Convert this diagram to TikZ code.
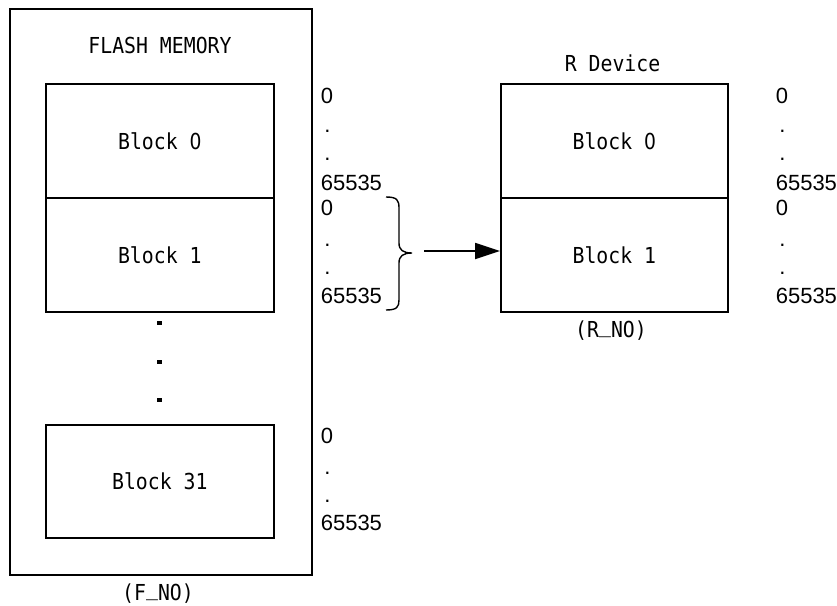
\documentclass[tikz,border=0pt]{standalone}
\usepackage{fontspec}
\newfontfamily\gul[FakeStretch=0.9]{DejaVu Sans Mono}
\newfontfamily\gulz[FakeStretch=0.85]{DejaVu Sans}
\newfontfamily\numf{Liberation Sans}
\newcommand{\zr}{{\gulz 0}}
\newcommand{\us}{\raisebox{0.2em}{\_}}
\usetikzlibrary{arrows.meta}
\begin{document}
\begin{tikzpicture}[x=1pt,y=-1pt,line width=1.6pt,
  box/.style={draw,line width=1.6pt,inner sep=0pt,anchor=north west,
    font=\gul\fontsize{22}{22}\selectfont},
  lbl/.style={font=\gul\fontsize{22}{22}\selectfont,inner sep=0pt,anchor=base},
  num/.style={font=\numf\fontsize{22}{22}\selectfont,inner sep=0pt,anchor=base west},
  dotsq/.style={fill,inner sep=0pt,minimum width=5pt,minimum height=4.5pt},
  brc/.style={line width=1.4pt},
  arr/.style={line width=1.8pt,-{Triangle[length=25pt,width=16pt]}}]
\useasboundingbox (0,0) rectangle (837,605);
% flash memory
\node[box,minimum width=302pt,minimum height=566pt] (flash) at (9,8) {};
\node[lbl] (ftitle) at (160,53) {FLASH MEMORY};
\node[box,minimum width=228pt,minimum height=114pt] (b0) at (45,83) {Block \zr};
\node[box,minimum width=228pt,minimum height=114pt] (b1) at (45,197) {Block 1};
\node[box,minimum width=228pt,minimum height=113pt] (b31) at (45,424) {Block 31};
\node[dotsq] (d1) at (159,323) {};
\node[dotsq] (d2) at (159,362) {};
\node[dotsq] (d3) at (159,400) {};
\node[lbl] (fno) at (158,600) {(F\us NO)};
% address labels, left
\node[num] (l1a) at (320,103) {0};
\node[num] (l1b) at (323.5,132) {.};
\node[num] (l1c) at (323.5,160.5) {.};
\node[num] (l1d) at (320,190) {65535};
\node[num] (l2a) at (320,215) {0};
\node[num] (l2b) at (323.5,246.5) {.};
\node[num] (l2c) at (323.5,274) {.};
\node[num] (l2d) at (320,303) {65535};
\node[num] (l3a) at (320,443) {0};
\node[num] (l3b) at (323.5,474) {.};
\node[num] (l3c) at (323.5,502) {.};
\node[num] (l3d) at (320,530) {65535};
% R device
\node[lbl] (rtitle) at (612.5,71) {R Device};
\node[box,minimum width=227pt,minimum height=114pt] (rb0) at (500,83) {Block \zr};
\node[box,minimum width=227pt,minimum height=114pt] (rb1) at (500,197) {Block 1};
\node[lbl] (rno) at (611,337) {(R\us NO)};
% address labels, right
\node[num] (r1a) at (775,103) {0};
\node[num] (r1b) at (778.5,132) {.};
\node[num] (r1c) at (778.5,160.5) {.};
\node[num] (r1d) at (775,190) {65535};
\node[num] (r2a) at (775,215) {0};
\node[num] (r2b) at (778.5,246.5) {.};
\node[num] (r2c) at (778.5,274) {.};
\node[num] (r2d) at (775,303) {65535};
% brace and arrow
\draw[brc] (386,197) .. controls (397,197) and (399,200) .. (399,208) -- (399,243)
  .. controls (399,250) and (403,253) .. (412,253)
  .. controls (403,253) and (399,256) .. (399,263) -- (399,300)
  .. controls (399,307) and (397,310) .. (386,310);
\coordinate (astart) at (424,251);
\draw[arr] (astart) -- (rb1.west |- astart);
\end{tikzpicture}
\end{document}
